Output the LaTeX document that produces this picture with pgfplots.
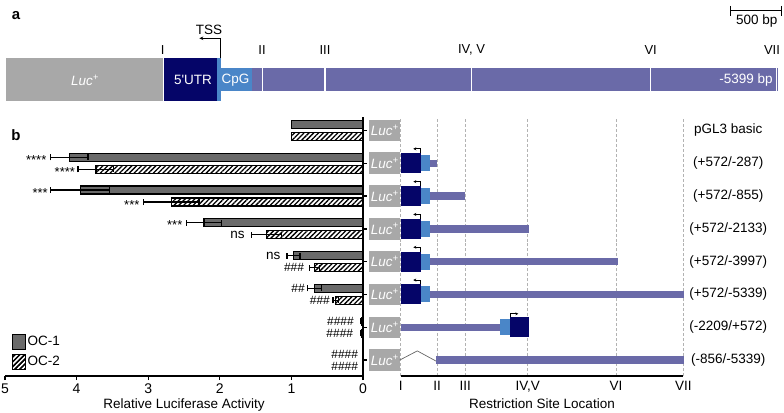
\documentclass[border=0pt]{standalone}
\usepackage{pgfplots}
\pgfplotsset{compat=1.18}
\usepackage{fontspec}
\setmainfont{Liberation Sans}
\usetikzlibrary{patterns.meta,arrows.meta}
\definecolor{lucgray}{HTML}{A8A8A8}
\definecolor{navy}{HTML}{050568}
\definecolor{cpgblue}{HTML}{4A86C8}
\definecolor{prom}{HTML}{6A6AA8}
\definecolor{barfill}{HTML}{6A6A6A}
\newcommand{\fs}[1]{\fontsize{#1bp}{#1bp}\selectfont}
\newcommand{\rect}[5]{\addplot[fill=#1,draw=none,mark=none,forget plot] coordinates {(#2,#3) (#4,#3) (#4,#5) (#2,#5)} -- cycle;}
\newcommand{\sep}[1]{\addplot[white,line width=1.3bp,mark=none,forget plot] coordinates {(#1,68.3) (#1,91)};}
\pgfplotsset{
  oc1/.style={xbar, bar width=8bp, bar shift=0bp, fill=barfill, draw=black, line width=1.2bp,
    legend image code/.code={\draw[fill=barfill,draw=black,line width=1bp] (0bp,-7.5bp) rectangle (13bp,7.5bp);}},
  oc2/.style={xbar, bar width=8bp, bar shift=0bp, fill=white, draw=black, line width=1.2bp,
    postaction={pattern={Lines[angle=45,distance=3.4bp,line width=1.3bp]}},
    legend image code/.code={\draw[fill=white,draw=black,line width=1bp,postaction={pattern={Lines[angle=45,distance=3.4bp,line width=1.3bp]}}] (0bp,-7.5bp) rectangle (13bp,7.5bp);}},
  errs/.style={error bars/.cd, x dir=both, x explicit, error bar style={line width=1.2bp, black},
    error mark options={black, line width=1.2bp, mark size=3bp, rotate=90}},
}
\begin{document}
\begin{tikzpicture}[font=\fs{13.5}]
\path[use as bounding box] (0,0) rectangle (784bp,413bp);

% ---------------- panel a ----------------
\begin{axis}[at={(0bp,413bp)}, anchor=north west, width=784bp, height=110bp, scale only axis,
  xmin=0, xmax=784, ymin=0, ymax=110, y dir=reverse, hide axis, clip=false]
\rect{lucgray}{6}{58.3}{162.7}{101}
\rect{navy}{163.7}{58.3}{216.7}{101}
\rect{cpgblue}{216.7}{58.3}{221.3}{101}
\rect{cpgblue}{221.3}{68.3}{251.7}{91}
\rect{prom}{251.7}{68.3}{778}{91}
\sep{262.3}\sep{325}\sep{471.3}\sep{650.7}\sep{776.7}
\addplot[black,line width=1bp,mark=none,forget plot,-{Stealth[length=4bp,width=3.5bp]}] coordinates {(220.7,58.3) (220.7,38.3) (199.3,38.3)};
\addplot[black,line width=1bp,mark=none,forget plot] coordinates {(730.7,11) (781.7,11)};
\addplot[black,line width=1bp,mark=none,forget plot] coordinates {(730.7,6) (730.7,16)};
\addplot[black,line width=1bp,mark=none,forget plot] coordinates {(781.7,6) (781.7,16)};
\node[font=\fs{13.5}] at (axis cs:756.7,21) {500 bp};
\node[font=\fs{13.5}] at (axis cs:209,30) {TSS};
\node[font=\fs{13}] at (axis cs:162.7,50) {I};
\node[font=\fs{13}] at (axis cs:262,50) {II};
\node[font=\fs{13}] at (axis cs:325,50) {III};
\node[font=\fs{13}] at (axis cs:471.5,50) {IV, V};
\node[font=\fs{13}] at (axis cs:650.7,50) {VI};
\node[font=\fs{13}] at (axis cs:772,50) {VII};
\node[white,font=\fs{13.5}\itshape] at (axis cs:85,80) {Luc\textsuperscript{+}};
\node[white,font=\fs{13.5}] at (axis cs:193,80) {5\textquotesingle UTR};
\node[white,font=\fs{13.5}] at (axis cs:235.5,80) {CpG};
\node[white,font=\fs{13.5}] at (axis cs:746,80) {-5399 bp};
\node[font=\fs{15}\bfseries] at (axis cs:16,15.5) {a};
\node[font=\fs{15}\bfseries] at (axis cs:16,135) {b};
\end{axis}

% ---------------- panel b left: bars ----------------
\begin{axis}[at={(5bp,37bp)}, anchor=south west, width=358bp, height=259bp, scale only axis,
  xmin=0, xmax=5, ymin=0.515, ymax=8.41, x dir=reverse,
  axis x line*=bottom, axis y line*=right,
  axis line style={line width=1.5bp, black},
  xtick={0,1,2,3,4,5}, ytick={1,2,3,4,5,6,7,8}, yticklabels={},
  tick align=outside, major tick length=4bp,
  major tick style={line width=1.3bp, black},
  /pgf/number format/assume math mode=true,
  tick label style={font=\fs{14}},
  xlabel={Relative Luciferase Activity},
  xlabel style={font=\fs{13.5}, at={(axis description cs:0.5,0)}, anchor=north, yshift=-19bp},
  clip=false,
  legend style={at={(0.018,0.163)}, anchor=north west, draw=none, fill=none, inner sep=0pt,
    row sep=4bp, font=\fs{13.5}},
  legend cell align=left,
]
% OC-1 (grey)
\addplot[oc1, errs]
 coordinates {(4.10,7.183) +- (0.26,0) (3.95,6.183) +- (0.41,0) (2.22,5.183) +- (0.24,0)
   (0.97,4.183) +- (0.09,0) (0.68,3.183) +- (0.10,0) (0.02,2.183) +- (0.01,0)};
\addlegendentry{OC-1}
% OC-2 (hatched)
\addplot[oc2, errs]
 coordinates {(3.73,6.817) +- (0.25,0) (2.68,5.817) +- (0.39,0) (1.35,4.817) +- (0.21,0)
   (0.68,3.817) +- (0.07,0) (0.38,2.817) +- (0.04,0) (0.02,1.817) +- (0.01,0)};
\addlegendentry{OC-2}
% rows without error bars (pGL3 basic and -856/-5339)
\addplot[oc1, forget plot] coordinates {(1.00,8.183) (0.005,1.183)};
\addplot[oc2, forget plot] coordinates {(1.00,7.817) (0.005,0.817)};
% significance marks
\node[anchor=east,inner sep=0pt,font=\fs{13},yshift=-2.5bp] at (axis cs:4.42,7.183) {****};
\node[anchor=east,inner sep=0pt,font=\fs{13},yshift=-2.5bp] at (axis cs:4.02,6.817) {****};
\node[anchor=east,inner sep=0pt,font=\fs{13},yshift=-2.5bp] at (axis cs:4.40,6.183) {***};
\node[anchor=east,inner sep=0pt,font=\fs{13},yshift=-2.5bp] at (axis cs:3.12,5.817) {***};
\node[anchor=east,inner sep=0pt,font=\fs{13},yshift=-2.5bp] at (axis cs:2.52,5.183) {***};
\node[anchor=east,inner sep=0pt,font=\fs{13.5}] at (axis cs:1.65,4.817) {ns};
\node[anchor=east,inner sep=0pt,font=\fs{13.5}] at (axis cs:1.15,4.183) {ns};
\node[anchor=east,inner sep=0pt,font=\fs{12}] at (axis cs:0.82,3.817) {\#\#\#};
\node[anchor=east,inner sep=0pt,font=\fs{12}] at (axis cs:0.81,3.183) {\#\#};
\node[anchor=east,inner sep=0pt,font=\fs{12}] at (axis cs:0.46,2.817) {\#\#\#};
\node[anchor=east,inner sep=0pt,font=\fs{12}] at (axis cs:0.126,2.183) {\#\#\#\#};
\node[anchor=east,inner sep=0pt,font=\fs{12}] at (axis cs:0.135,1.817) {\#\#\#\#};
\node[anchor=east,inner sep=0pt,font=\fs{12}] at (axis cs:0.066,1.183) {\#\#\#\#};
\node[anchor=east,inner sep=0pt,font=\fs{12}] at (axis cs:0.066,0.817) {\#\#\#\#};
\end{axis}

% ---------------- panel b right: constructs ----------------
\begin{axis}[at={(400.7bp,37bp)}, anchor=south west, width=282.6bp, height=259bp, scale only axis,
  xmin=0, xmax=282.6, ymin=0.515, ymax=8.41,
  axis x line*=bottom, axis y line=none,
  axis line style={line width=1.5bp, black},
  xtick={0,36.3,64.6,127,215.3,282.6}, xticklabels={I,II,III,{IV,V},VI,VII},
  major tick length=0bp,
  xmajorgrids, grid style={densely dashed, black!30, line width=0.7bp},
  tick label style={font=\fs{13.5}},
  xticklabel style={yshift=-2bp},
  xlabel={Restriction Site Location},
  xlabel style={font=\fs{13.5}, at={(axis description cs:0.5,0)}, anchor=north, yshift=-19bp},
  clip=false]
% Luc+ boxes
\rect{lucgray}{-31.4}{7.672}{-1}{8.328}
\rect{lucgray}{-31.4}{6.672}{-1}{7.328}
\rect{lucgray}{-31.4}{5.672}{-1}{6.328}
\rect{lucgray}{-31.4}{4.672}{-1}{5.328}
\rect{lucgray}{-31.4}{3.672}{-1}{4.328}
\rect{lucgray}{-31.4}{2.672}{-1}{3.328}
\rect{lucgray}{-31.4}{1.672}{-1}{2.328}
\rect{lucgray}{-31.4}{0.672}{-1}{1.328}
% row 2 (+572/-287)
\rect{navy}{0.3}{6.695}{20}{7.305}
\rect{cpgblue}{20}{6.756}{29.3}{7.244}
\rect{prom}{29.3}{6.887}{36.6}{7.113}
% row 3 (+572/-855)
\rect{navy}{0.3}{5.695}{20}{6.305}
\rect{cpgblue}{20}{5.756}{29.3}{6.244}
\rect{prom}{29.3}{5.887}{64.6}{6.113}
% row 4 (+572/-2133)
\rect{navy}{0.3}{4.695}{20}{5.305}
\rect{cpgblue}{20}{4.756}{29.3}{5.244}
\rect{prom}{29.3}{4.887}{128.6}{5.113}
% row 5 (+572/-3997)
\rect{navy}{0.3}{3.695}{20}{4.305}
\rect{cpgblue}{20}{3.756}{29.3}{4.244}
\rect{prom}{29.3}{3.887}{217}{4.113}
% row 6 (+572/-5339)
\rect{navy}{0.3}{2.695}{20}{3.305}
\rect{cpgblue}{20}{2.756}{29.3}{3.244}
\rect{prom}{29.3}{2.887}{283.6}{3.113}
% row 7 (-2209/+572)
\rect{prom}{0}{1.887}{99.3}{2.113}
\rect{cpgblue}{99.3}{1.756}{109.3}{2.244}
\rect{navy}{109.3}{1.695}{128.6}{2.305}
% row 8 (-856/-5339)
\addplot[black!60,line width=0.7bp,mark=none,forget plot] coordinates {(-1,1.0) (16.6,1.28) (35.3,0.97)};
\rect{prom}{35.3}{0.887}{283.6}{1.113}
% TSS arrows
\addplot[black,line width=0.9bp,mark=none,forget plot,-{Stealth[length=3bp,width=3bp]}] coordinates {(19.6,7.305) (19.6,7.44) (12.6,7.44)};
\addplot[black,line width=0.9bp,mark=none,forget plot,-{Stealth[length=3bp,width=3bp]}] coordinates {(19.6,6.305) (19.6,6.44) (12.6,6.44)};
\addplot[black,line width=0.9bp,mark=none,forget plot,-{Stealth[length=3bp,width=3bp]}] coordinates {(19.6,5.305) (19.6,5.44) (12.6,5.44)};
\addplot[black,line width=0.9bp,mark=none,forget plot,-{Stealth[length=3bp,width=3bp]}] coordinates {(19.6,4.305) (19.6,4.44) (12.6,4.44)};
\addplot[black,line width=0.9bp,mark=none,forget plot,-{Stealth[length=3bp,width=3bp]}] coordinates {(19.6,3.305) (19.6,3.44) (12.6,3.44)};
\addplot[black,line width=0.9bp,mark=none,forget plot,-{Stealth[length=3bp,width=3bp]}] coordinates {(109.6,2.305) (109.6,2.41) (117.6,2.41)};
% Luc+ texts
\pgfplotsinvokeforeach{1,...,8}{\node[white,font=\fs{13.5}\itshape] at (axis cs:-16,#1) {Luc\textsuperscript{+}};}
% construct names
\node at (axis cs:327.6,8) {pGL3 basic};
\node at (axis cs:327.6,7) {(+572/-287)};
\node at (axis cs:327.6,6) {(+572/-855)};
\node at (axis cs:327.6,5) {(+572/-2133)};
\node at (axis cs:327.6,4) {(+572/-3997)};
\node at (axis cs:327.6,3) {(+572/-5339)};
\node at (axis cs:327.6,2) {(-2209/+572)};
\node at (axis cs:327.6,1) {(-856/-5339)};
\end{axis}
\end{tikzpicture}
\end{document}
